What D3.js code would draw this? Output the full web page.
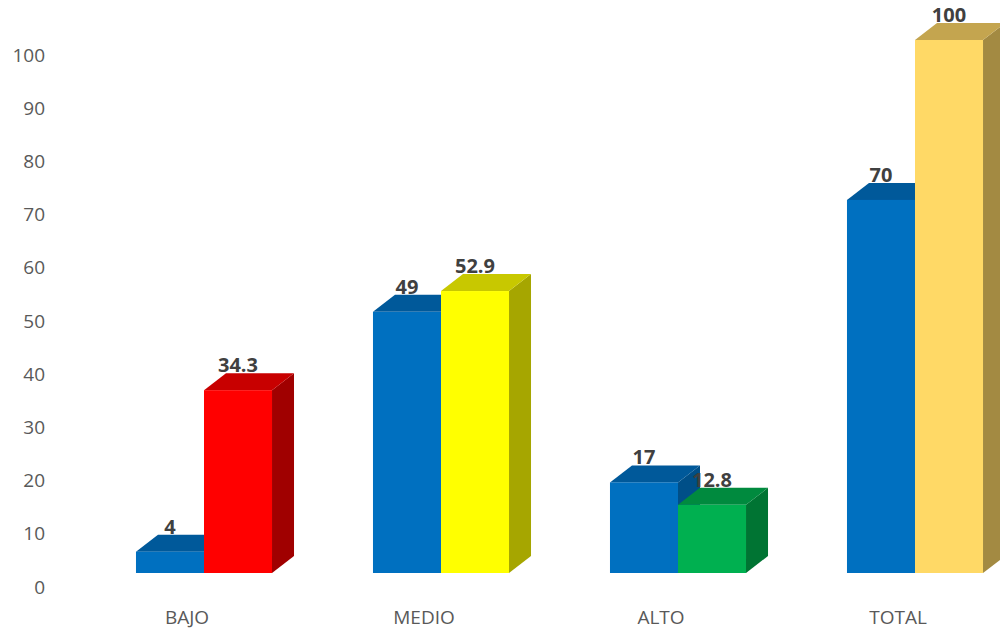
<!DOCTYPE html>
<html><head><meta charset="utf-8">
<script src="https://cdn.jsdelivr.net/npm/d3@7/dist/d3.min.js"></script>
<style>body{margin:0;background:#fff;}svg{display:block;}</style>
</head><body>
<svg id="c" width="1000" height="631"></svg>
<script>
const categories = ["BAJO","MEDIO","ALTO","TOTAL"];
const seriesA = [4, 49, 17, 70];
const seriesB = [34.3, 52.9, 12.8, 100];
const yTicks = [0,10,20,30,40,50,60,70,80,90,100];
const colorsA = {front:"#0070C0", top:"#00599A", side:"#004F88"};
const colorsB = [
  {front:"#FF0000", top:"#C80000", side:"#A00000"},
  {front:"#FFFF00", top:"#C8C800", side:"#A6A600"},
  {front:"#00B050", top:"#008A3E", side:"#007433"},
  {front:"#FFD966", top:"#C4A54F", side:"#A38A42"}
];

const svg = d3.select("#c");
const font = "'Open Sans', 'Noto Sans', sans-serif";
const dx = 22, dy = 17;

const x = d3.scaleBand().domain(categories).range([85.5, 1033.5]).paddingInner(0.426).paddingOuter(0.213);
const xs = d3.scaleBand().domain([0,1]).range([0, x.bandwidth()]);
const yFront = d3.scaleLinear().domain([0,100]).range([573, 40]);
const yAxisScale = d3.scaleLinear().domain([0,100]).range([587, 55]);

// Y axis
const ax = svg.append("g").attr("transform","translate(48,0)")
  .call(d3.axisLeft(yAxisScale).tickValues(yTicks).tickSize(0).tickPadding(3));
ax.select(".domain").remove();
ax.selectAll("text").attr("fill","#595959").style("font-size","19px").style("font-family",font);

// bars
const bars = [];
categories.forEach((c,i)=>{
  bars.push({cat:c, s:0, v:seriesA[i], col:colorsA});
  bars.push({cat:c, s:1, v:seriesB[i], col:colorsB[i]});
});

const g = svg.append("g");
bars.forEach(b=>{
  const x0 = x(b.cat) + xs(b.s), x1 = x0 + xs.bandwidth();
  const yt = yFront(b.v), yb = yFront(0);
  g.append("polygon").attr("points",[[x1,yt],[x1+dx,yt-dy],[x1+dx,yb-dy],[x1,yb]].map(p=>p.join(",")).join(" "))
    .attr("fill",b.col.side);
  g.append("polygon").attr("points",[[x0,yt],[x0+dx,yt-dy],[x1+dx,yt-dy],[x1,yt]].map(p=>p.join(",")).join(" "))
    .attr("fill",b.col.top);
  g.append("rect").attr("x",x0).attr("y",yt).attr("width",x1-x0).attr("height",yb-yt).attr("fill",b.col.front);
});

// data labels
bars.forEach(b=>{
  const xc = x(b.cat) + xs(b.s) + xs.bandwidth()/2;
  svg.append("text").attr("x",xc).attr("y",yFront(b.v)-dy-1)
    .attr("text-anchor","middle").attr("fill","#404040")
    .style("font-size","20px").style("font-weight","bold").style("font-family",font)
    .text(b.v);
});

// category labels
categories.forEach(c=>{
  svg.append("text").attr("x",x(c)+x.bandwidth()/2-17).attr("y",624)
    .attr("text-anchor","middle").attr("fill","#595959")
    .style("font-size","19px").style("font-family",font).text(c);
});
</script>
</body></html>
